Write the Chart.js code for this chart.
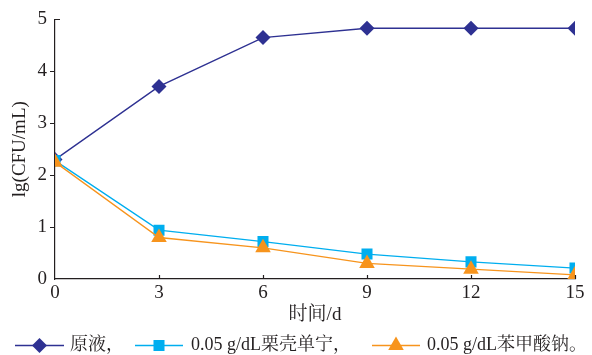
<!DOCTYPE html>
<html>
<head>
<meta charset="utf-8">
<script src="https://cdn.jsdelivr.net/npm/chart.js@4/dist/chart.umd.min.js"></script>
<style>
  html, body { margin: 0; padding: 0; background: #fff; }
  #wrap { width: 592px; height: 355px; position: relative; }
</style>
</head>
<body>
<div id="wrap"><canvas id="c" width="592" height="355"></canvas></div>
<script>
// Storage time (days) and log counts for each treatment
const days = [0, 3, 6, 9, 12, 15];
const rawJuice = [2.30, 3.71, 4.65, 4.83, 4.83, 4.83];
const chestnutTannin = [2.28, 0.94, 0.72, 0.48, 0.33, 0.21];
const sodiumBenzoate = [2.25, 0.80, 0.60, 0.30, 0.19, 0.08];
const seriesNames = ['原液，', '0.05 g/dL栗壳单宁，', '0.05 g/dL苯甲酸钠。'];
const xTicks = [0, 3, 6, 9, 12, 15];
const yTicks = [0, 1, 2, 3, 4, 5];

const NAVY = '#2e3192';
const BLUE = '#00aeef';
const ORANGE = '#f7941d';
const INK = '#231f20';
const SERIF = '"Liberation Serif", "Times New Roman", serif';
const CJK = '"Liberation Serif", "Noto Serif CJK SC", "Noto Sans CJK SC", serif';

const pts = arr => days.map((d, i) => ({ x: d, y: arr[i] }));

// Axis tick marks: y ticks point outward, x ticks point inward
const tickMarks = {
  id: 'tickMarks',
  afterDatasetsDraw(chart) {
    const ctx = chart.ctx;
    const xs = chart.scales.x, ys = chart.scales.y;
    const a = chart.chartArea;
    ctx.save();
    ctx.strokeStyle = INK;
    ctx.lineWidth = 1.2;
    ctx.beginPath();
    yTicks.forEach(v => {
      const py = Math.round(ys.getPixelForValue(v)) + 0.5;
      if (v === yTicks[yTicks.length - 1]) {
        ctx.moveTo(a.left, py); ctx.lineTo(a.left + 5, py);
      } else if (v !== 0) {
        ctx.moveTo(a.left - 5, py); ctx.lineTo(a.left, py);
      }
    });
    xTicks.forEach(v => {
      if (v === 0) return;
      const px = Math.round(xs.getPixelForValue(v)) + 0.5;
      ctx.moveTo(px, a.bottom); ctx.lineTo(px, a.bottom - 4);
    });
    ctx.stroke();
    ctx.restore();
  }
};

// Axis title under the x axis and the line-and-marker legend row
const bottomText = {
  id: 'bottomText',
  afterDraw(chart) {
    const ctx = chart.ctx;
    const a = chart.chartArea;
    ctx.save();
    ctx.fillStyle = INK;
    ctx.font = '19px ' + CJK;
    ctx.textAlign = 'center';
    ctx.textBaseline = 'middle';
    ctx.fillText('时间/d', (a.left + a.right) / 2, 315);

    const items = [
      { x0: 15, x1: 64, tx: 70 },
      { x0: 135, x1: 183, tx: 191 },
      { x0: 372, x1: 420, tx: 427 }
    ];
    const ly = 345.5;
    items.forEach((it, i) => {
      const ds = chart.data.datasets[i];
      ctx.strokeStyle = ds.borderColor;
      ctx.lineWidth = ds.borderWidth;
      ctx.beginPath();
      ctx.moveTo(it.x0, ly); ctx.lineTo(it.x1, ly);
      ctx.stroke();
      ctx.fillStyle = ds.pointBackgroundColor;
      ctx.beginPath();
      Chart.helpers.drawPoint(ctx, {
        pointStyle: ds.pointStyle,
        radius: ds.pointRadius,
        borderWidth: 0
      }, (it.x0 + it.x1) / 2, ly);
      ctx.fillStyle = INK;
      ctx.font = '18px ' + CJK;
      ctx.textAlign = 'left';
      ctx.fillText(seriesNames[i], it.tx, ly);
    });
    ctx.restore();
  }
};

const lineSet = (label, data, color, style, r, order) => ({
  label, data: pts(data),
  borderColor: color, backgroundColor: color,
  pointBackgroundColor: color, pointBorderColor: color,
  borderWidth: 1.4, pointStyle: style, pointRadius: r, pointHoverRadius: r,
  pointBorderWidth: 0, tension: 0, order
});

new Chart(document.getElementById('c'), {
  type: 'line',
  data: {
    datasets: [
      lineSet(seriesNames[0], rawJuice, NAVY, 'rectRot', 7.5, 3),
      lineSet(seriesNames[1], chestnutTannin, BLUE, 'rect', 7.8, 2),
      lineSet(seriesNames[2], sodiumBenzoate, ORANGE, 'triangle', 9, 1)
    ]
  },
  options: {
    responsive: false,
    animation: false,
    layout: { padding: { left: 0, right: 17, top: 19, bottom: 0 } },
    plugins: { legend: { display: false }, tooltip: { enabled: false } },
    scales: {
      x: {
        type: 'linear', min: 0, max: 15,
        afterBuildTicks: s => { s.ticks = xTicks.map(v => ({ value: v })); },
        afterFit: s => { s.height = 76; },
        grid: { drawOnChartArea: false, drawTicks: false },
        border: { display: true, color: INK, width: 1.2 },
        ticks: { color: INK, padding: 3, font: { family: SERIF, size: 19 } }
      },
      y: {
        type: 'linear', min: 0, max: 5,
        afterBuildTicks: s => { s.ticks = yTicks.map(v => ({ value: v })); },
        afterFit: s => { s.width = 55; },
        grid: { drawOnChartArea: false, drawTicks: false },
        border: { display: true, color: INK, width: 1.2 },
        ticks: { color: INK, padding: 8, font: { family: SERIF, size: 19 } },
        title: {
          display: true, text: 'lg(CFU/mL)', color: INK,
          font: { family: SERIF, size: 19 }, padding: { top: 9, bottom: 0 }
        }
      }
    }
  },
  plugins: [tickMarks, bottomText]
});
</script>
</body>
</html>
